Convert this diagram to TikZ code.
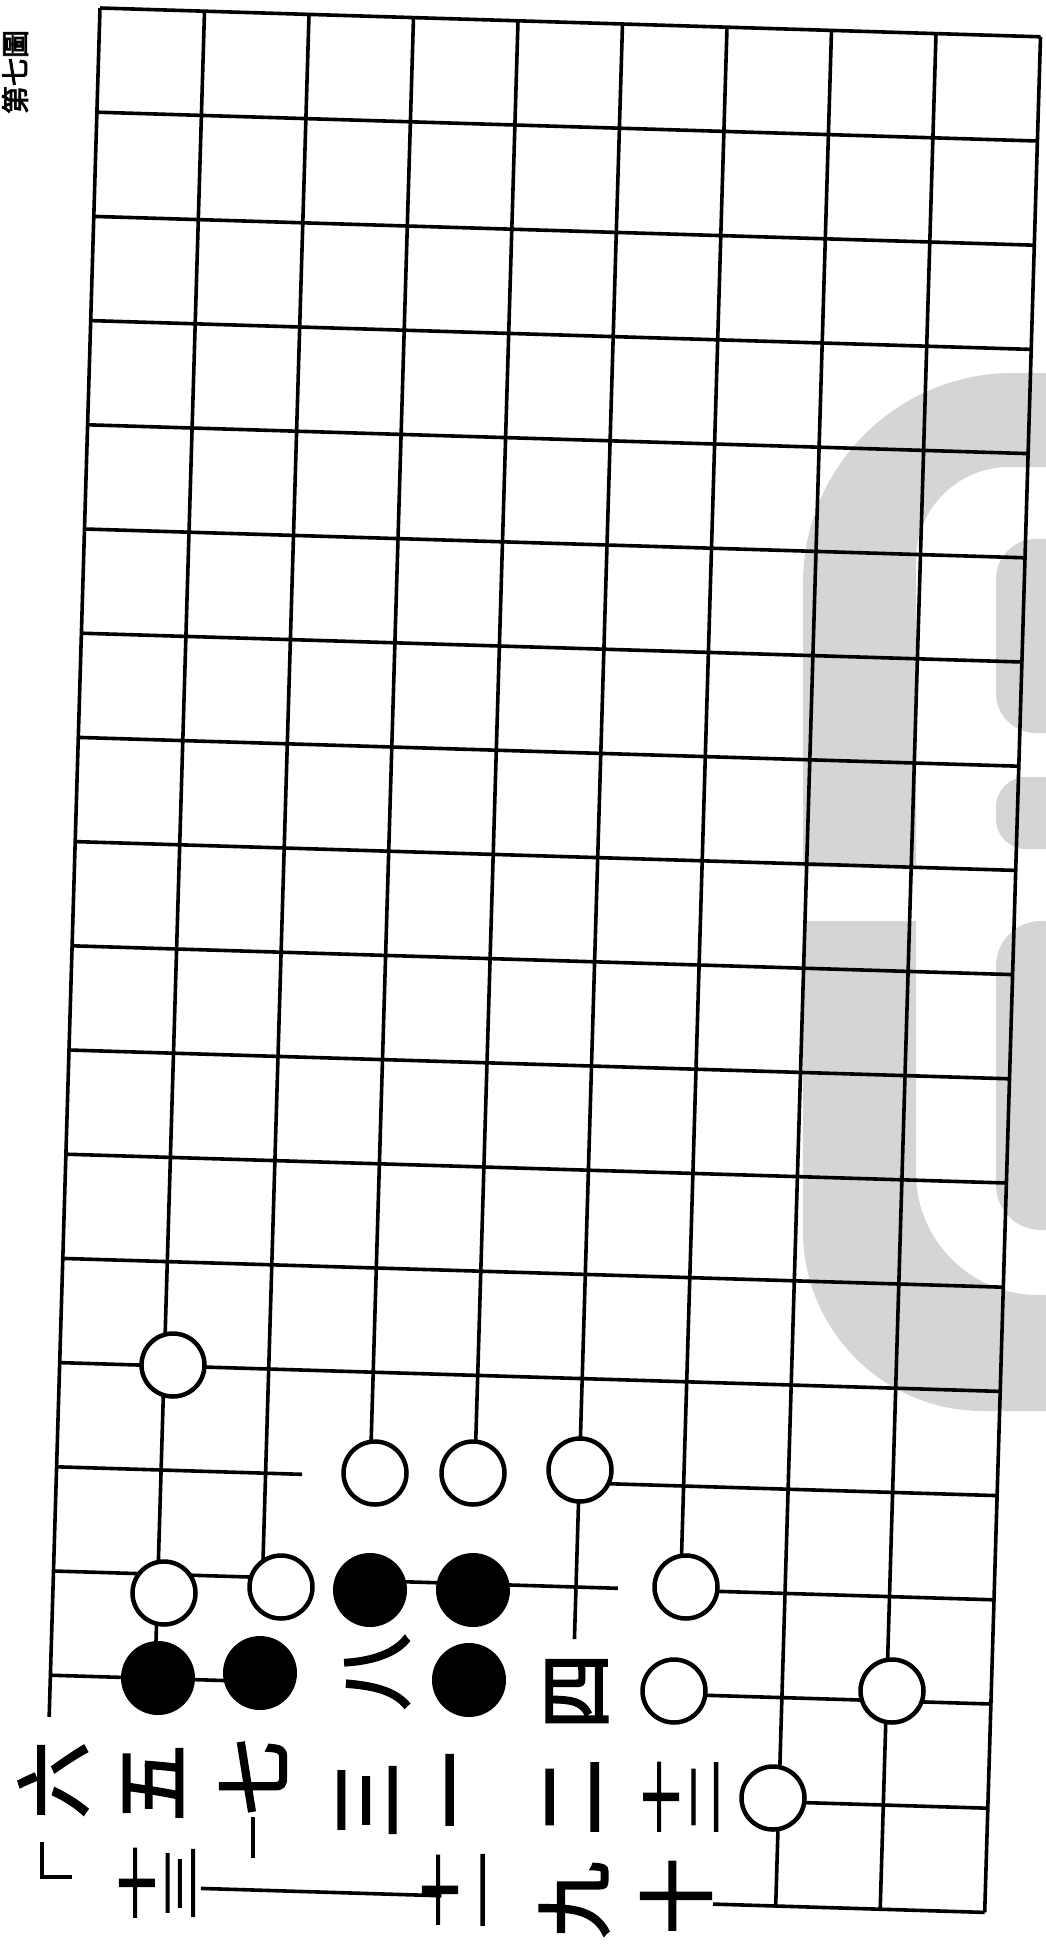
\documentclass[tikz,border=0pt]{standalone}
\usepackage{fontspec}
\usepackage{graphicx}
\newfontfamily\cjk{Noto Sans CJK SC}[FakeBold=3]
\definecolor{wm}{RGB}{213,213,213}
\begin{document}
\begin{tikzpicture}[x=1pt,y=-1pt,
  gl/.style={line width=3.6pt, black},
  wstone/.style={circle, draw=black, line width=4.5pt, fill=white, minimum size=63pt, inner sep=0pt},
  bstone/.style={circle, fill=black, minimum size=74pt, inner sep=0pt},
  num/.style={rotate=90, inner sep=0pt, font=\cjk\fontsize{76}{76}\selectfont},
  numtwo/.style={rotate=90, inner sep=0pt, align=center, font=\cjk\fontsize{76}{43}\selectfont}]
\useasboundingbox (0,0) rectangle (1046,1949);
\clip (0,0) rectangle (1046,1949);
\fill[white] (0,0) rectangle (1046,1949);
% watermark
\fill[wm] (1060,373) -- (1013,373) arc[start angle=90,end angle=180,radius=210pt] -- (803,867) -- (916,867) -- (916,560) arc[start angle=180,end angle=90,radius=93pt] -- (1060,467) -- cycle;
\fill[wm] (803,921) -- (803,1231) arc[start angle=180,end angle=270,radius=180pt] -- (1060,1411) -- (1060,1295) -- (1038,1295) arc[start angle=270,end angle=180,radius=122pt] -- (916,921) -- cycle;
\fill[wm, rounded corners=40pt] (996,539) rectangle (1120,733);
\fill[wm, rounded corners=30pt] (996,777) rectangle (1120,849);
\fill[wm, rounded corners=45pt] (996,921) rectangle (1120,1230);
% header
\node[rotate=90, inner sep=0pt, font=\cjk\fontsize{28}{28}\selectfont] (hd) at (15,72) {第七圖};
% grid
\begin{scope}[shift={(100,8)}, x={(104.5pt,-3.2pt)}, y={(-3.1pt,-104.2pt)}]
  \foreach \r in {0,...,13} \draw[gl] (0,\r) -- (9,\r);
  \draw[gl] (0,0) -- (0,16.4);
  \draw[gl] (1,0) -- (1,16);
  \draw[gl] (2,0) -- (2,15);
  \draw[gl] (3,0) -- (3,14);
  \draw[gl] (4,0) -- (4,14);
  \draw[gl] (5,0) -- (5,15.5);
  \draw[gl] (6,0) -- (6,15);
  \draw[gl] (7,0) -- (7,18);
  \draw[gl] (8,0) -- (8,18);
  \draw[gl] (9,0) -- (9,18);
  \draw[gl] (0,14) -- (2.35,14);
  \draw[gl] (5,14) -- (9,14);
  \draw[gl] (0,15) -- (2,15);
  \draw[gl] (3,15) -- (5.4,15);
  \draw[gl] (6,15) -- (9,15);
  \draw[gl] (0,16) -- (2,16);
  \draw[gl] (6,16) -- (9,16);
  \draw[gl] (7,17) -- (9,17);
  \draw[gl] (1.5,18) -- (3.8,18);
  \draw[gl] (6.4,18) -- (9,18);
\end{scope}
\draw[gl] (42,1842) -- (42,1877) -- (72,1877);
\draw[gl] (253,1817) -- (253,1858);
% stones
\node[wstone] (w1) at (173,1365) {};
\node[wstone] (w2) at (375,1473) {};
\node[wstone] (w3) at (473,1473) {};
\node[wstone] (w4) at (580,1470) {};
\node[wstone] (w5) at (164,1593) {};
\node[wstone] (w6) at (281,1587) {};
\node[wstone] (w7) at (686,1587) {};
\node[wstone] (w8) at (674,1691) {};
\node[wstone] (w9) at (892,1691) {};
\node[wstone] (w10) at (773,1798) {};
\node[bstone] (b1) at (370,1590) {};
\node[bstone] (b2) at (473,1590) {};
\node[bstone] (b3) at (158,1678) {};
\node[bstone] (b4) at (260,1673) {};
\node[bstone] (b5) at (469,1680) {};
% numbers
\node[num] (n8) at (377,1672) {八};
\node[num] (n4) at (577,1691) {四};
\node[num] (n6) at (53,1780) {六};
\node[num] (n5) at (153,1783) {五};
\node[num] (n7) at (253,1777) {七};
\node[num] (n3) at (367,1800) {三};
\node[num] (n1) at (463,1790) {一};
\node[num] (n2) at (573,1797) {二};
\node[numtwo] (n12) at (681,1797) {\scalebox{1}[0.5]{十}\\\scalebox{1}[0.5]{二}};
\node[numtwo] (n13) at (157,1883) {\scalebox{1}[0.5]{十}\\\scalebox{1}[0.5]{三}};
\node[numtwo] (n11) at (460,1890) {\scalebox{1}[0.5]{十}\\\scalebox{1}[0.5]{一}};
\node[num] (n9) at (574,1900) {九};
\node[num] (n10) at (676,1896) {十};
\end{tikzpicture}
\end{document}
